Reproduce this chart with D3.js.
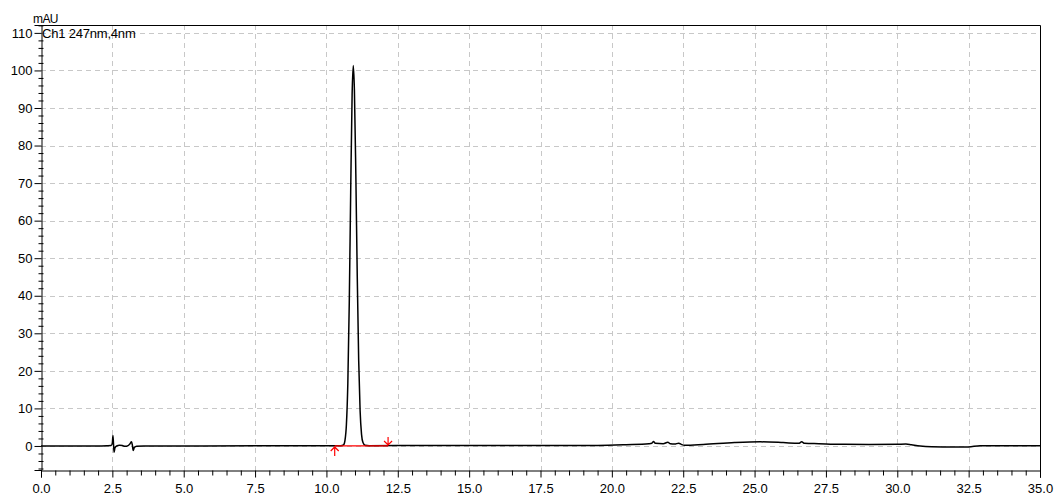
<!DOCTYPE html>
<html>
<head>
<meta charset="utf-8">
<script src="https://cdn.jsdelivr.net/npm/d3@7"></script>
<style>
  body { margin: 0; background: #fff; }
  text { font-family: "Liberation Sans", Arial, sans-serif; }
</style>
</head>
<body>
<svg id="chrom" width="1057" height="499"></svg>
<script>
// retention time (min) and detector signal (mAU)
const traceTime = [
  0.0, 1.0, 2.0, 2.3, 2.46, 2.5, 2.52, 2.54, 2.56, 2.59, 2.65, 2.75, 2.85, 2.95,
  3.05, 3.12, 3.17, 3.2, 3.23, 3.27, 3.35, 3.6, 5.0, 7.5, 10.0, 10.5,
  10.6, 10.65, 10.7, 10.75, 10.8, 10.85, 10.9, 10.94, 10.98, 11.03, 11.08,
  11.13, 11.18, 11.23, 11.28, 11.35, 11.5, 12.5, 15.0, 17.5, 19.5, 20.5,
  21.3, 21.4, 21.46, 21.52, 21.8, 21.96, 22.05, 22.2, 22.34, 22.45, 22.55,
  23.2, 24.3, 25.2, 26.0, 26.55, 26.65, 26.75, 27.25, 28.0, 29.0, 30.0,
  30.3, 30.5, 30.8, 31.2, 32.0, 32.5, 32.9, 35.0,
];
const traceSignal = [
  0.0, 0.0, 0.0, 0.05, 0.1, 0.8, 2.8, 0.6, -1.7, -0.5, 0.0, 0.2, 0.1, -0.1,
  0.1, 0.6, 1.1, 0.3, -1.2, -0.4, -0.05, 0.0, 0.0, 0.05, 0.05, 0.05,
  0.3, 1.5, 5.7, 16.7, 38.0, 67.6, 93.5, 101.3, 94.8, 72.5, 45.1,
  22.8, 9.4, 3.1, 0.9, 0.2, 0.08, 0.1, 0.1, 0.1, 0.15, 0.35,
  0.6, 0.7, 1.2, 0.7, 0.6, 1.0, 0.6, 0.5, 0.75, 0.35, 0.2,
  0.4, 0.9, 1.1, 0.9, 0.7, 1.1, 0.7, 0.6, 0.45, 0.4, 0.45,
  0.5, 0.3, 0.0, -0.2, -0.3, -0.25, 0.05, 0.05,
];

// integration marks of the main peak
const peakStart = 10.29;
const peakEnd = 12.16;
const peakBase = 0.0;

const xMajor = [0, 2.5, 5, 7.5, 10, 12.5, 15, 17.5, 20, 22.5, 25, 27.5, 30, 32.5, 35];
const yMajor = [0, 10, 20, 30, 40, 50, 60, 70, 80, 90, 100, 110];

const svg = d3.select("#chrom");

const x = d3.scaleLinear().domain([0, 35]).range([41, 1040]);
const y = d3.scaleLinear().domain([-6.4, 112.1]).range([470, 25]);

const x0 = x.range()[0], x1 = x.range()[1];
const yBottom = y.range()[0], yTop = y.range()[1];

// grid
const grid = svg.append("g")
  .attr("stroke", "#c8c8c8")
  .attr("stroke-width", 1)
  .attr("stroke-dasharray", "5,4");

grid.selectAll(".gx")
  .data(xMajor.filter((d) => d > 0 && d < 35))
  .join("line")
  .attr("x1", (d) => Math.round(x(d)) + 0.5)
  .attr("x2", (d) => Math.round(x(d)) + 0.5)
  .attr("y1", yTop)
  .attr("y2", yBottom);

grid.selectAll(".gy")
  .data(yMajor)
  .join("line")
  .attr("x1", x0)
  .attr("x2", x1)
  .attr("y1", (d) => Math.round(y(d)) + 0.5)
  .attr("y2", (d) => Math.round(y(d)) + 0.5);

// x axis with minor ticks every 0.5 min
const xAxis = svg.append("g")
  .attr("transform", `translate(0,${yBottom + 0.5})`)
  .call(d3.axisBottom(x).tickValues(xMajor).tickFormat(d3.format(".1f")).tickSize(7).tickPadding(6));

svg.append("g")
  .attr("transform", `translate(0,${yBottom + 0.5})`)
  .call(d3.axisBottom(x).tickValues(d3.range(0.5, 35, 0.5).filter((d) => d % 2.5 !== 0)).tickSize(5).tickFormat(""))
  .call((g) => g.select(".domain").remove());

// y axis with minor ticks every 2 mAU
const yAxis = svg.append("g")
  .attr("transform", `translate(${x0 + 0.5},0)`)
  .call(d3.axisLeft(y).tickValues(yMajor).tickSize(7).tickPadding(2));

svg.append("g")
  .attr("transform", `translate(${x0 + 0.5},0)`)
  .call(d3.axisLeft(y).tickValues(d3.range(-6, 113, 2).filter((d) => d % 10 !== 0)).tickSizeInner(4).tickSizeOuter(0).tickFormat(""))
  .call((g) => g.select(".domain").remove())
  .selectAll("line").attr("x2", -3).attr("x1", 2);

[xAxis, yAxis].forEach((g) => {
  g.selectAll("text").attr("font-size", 13).attr("fill", "#000")
    .attr("font-family", "'Liberation Sans', Arial, sans-serif");
  g.selectAll("line").attr("stroke", "#000");
  g.select(".domain").attr("stroke", "#000");
});

// top and right frame
svg.append("path")
  .attr("fill", "none")
  .attr("stroke", "#000")
  .attr("d", `M${x0 + 0.5},${yTop + 0.5}H${x1 + 0.5}V${yBottom + 7.5}`);

// trace
const pts = traceTime.map((t, i) => [t, traceSignal[i]]);
svg.append("path")
  .datum(pts)
  .attr("fill", "none")
  .attr("stroke", "#000")
  .attr("stroke-width", 1.5)
  .attr("stroke-linejoin", "round")
  .attr("d", d3.line().x((d) => x(d[0])).y((d) => y(d[1])).curve(d3.curveMonotoneX));

// peak baseline and start/end arrows
const red = svg.append("g").attr("stroke", "#ff0000").attr("fill", "none").attr("stroke-width", 1.2);
red.append("line")
  .attr("x1", x(peakStart)).attr("x2", x(peakEnd))
  .attr("y1", y(peakBase)).attr("y2", y(peakBase));

const ax = x(peakStart), ay = y(peakBase) + 1;
red.append("path").attr("d", `M${ax},${ay}V${ay + 9}M${ax - 4},${ay + 4}L${ax},${ay}L${ax + 4},${ay + 4}`);
const bx = x(peakEnd), by = y(peakBase) - 1;
red.append("path").attr("d", `M${bx},${by}V${by - 8}M${bx - 4},${by - 4}L${bx},${by}L${bx + 4},${by - 4}`);

// labels
svg.append("text")
  .attr("x", x0 + 1)
  .attr("y", 38)
  .attr("font-size", 13)
  .attr("letter-spacing", -0.2)
  .text("Ch1 247nm,4nm");

svg.append("text")
  .attr("x", 33)
  .attr("y", 23)
  .attr("font-size", 12)
  .attr("letter-spacing", -0.6)
  .text("mAU");
</script>
</body>
</html>
